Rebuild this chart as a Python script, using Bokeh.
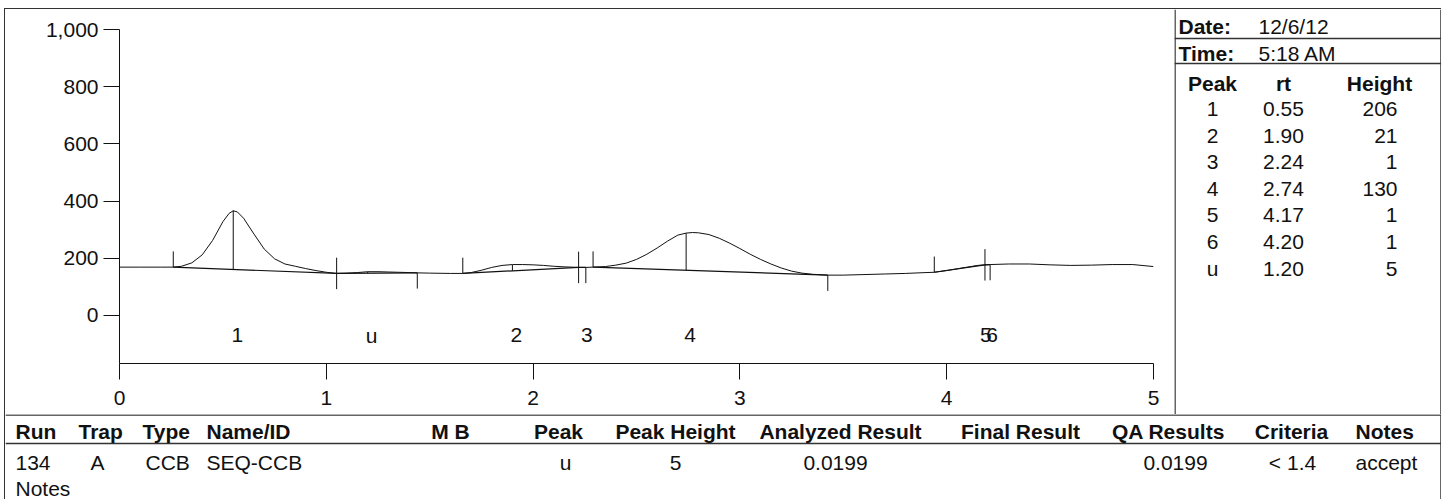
from bokeh.plotting import figure
from bokeh.models import Range1d, FixedTicker, NumeralTickFormatter, Spacer
from bokeh.layouts import row, column
from bokeh.embed import file_html
from bokeh.resources import INLINE
from bokeh.core.properties import value

# ---------------- data ----------------
signal_rt = [0.00, 0.10, 0.20, 0.26, 0.30, 0.35, 0.40, 0.45, 0.50, 0.53,
             0.55, 0.57, 0.60, 0.65, 0.70, 0.75, 0.80, 0.85, 0.90, 0.95,
             1.00, 1.05, 1.10, 1.15, 1.20, 1.25, 1.30, 1.35, 1.40, 1.44,
             1.50, 1.60, 1.66, 1.70, 1.75, 1.80, 1.85, 1.90, 1.95, 2.00,
             2.05, 2.10, 2.15, 2.22, 2.255, 2.29, 2.35, 2.40, 2.45, 2.50,
             2.55, 2.60, 2.65, 2.70, 2.74, 2.77, 2.80, 2.85, 2.90, 2.95,
             3.00, 3.05, 3.10, 3.15, 3.20, 3.25, 3.30, 3.35, 3.425, 3.50,
             3.60, 3.70, 3.80, 3.90, 3.94, 4.00, 4.05, 4.10, 4.15, 4.185,
             4.21, 4.30, 4.40, 4.50, 4.60, 4.70, 4.80, 4.90, 5.00]
signal_y = [169, 169, 169, 169, 172, 184, 212, 262, 328, 357,
            366, 362, 340, 285, 232, 198, 180, 172, 164, 157,
            151, 147, 148, 150, 153, 153, 152, 151, 150, 149,
            148, 147, 147, 150, 158, 168, 175, 178, 178, 177,
            175, 172, 170, 168, 168, 169, 171, 176, 183, 196,
            214, 236, 260, 281, 288, 290, 289, 283, 270, 253,
            234, 214, 196, 180, 166, 155, 148, 144, 141, 141,
            143, 145, 147, 150, 151, 157, 163, 169, 175, 177,
            178, 180, 180, 177, 175, 176, 178, 178, 171]

peak_names = ["1", "2", "3", "4", "5", "6", "u"]
peak_rt = [0.55, 1.90, 2.24, 2.74, 4.17, 4.20, 1.20]
peak_height = [206, 21, 1, 130, 1, 1, 5]
base_start_rt = [0.26, 1.66, 2.22, 2.29, 3.94, 4.185, 1.05]
base_start_y = [169, 147, 168, 169, 151, 177, 147]
base_end_rt = [1.05, 2.22, 2.255, 3.425, 4.185, 4.21, 1.44]
base_end_y = [147, 168, 168, 141, 177, 178, 149]

x_ticks = [0, 1, 2, 3, 4, 5]
y_ticks = [0, 200, 400, 600, 800, 1000]

run_date = "12/6/12"
run_time = "5:18 AM"
peak_table_header = ["Peak", "rt", "Height"]

result_header = ["Run", "Trap", "Type", "Name/ID", "M B", "Peak", "Peak Height",
                 "Analyzed Result", "Final Result", "QA Results", "Criteria", "Notes"]
result_row = ["134", "A", "CCB", "SEQ-CCB", "", "u", "5", "0.0199", "", "0.0199",
              "< 1.4", "accept"]
notes_label = "Notes"

# ---------------- style ----------------
FONT = "Liberation Sans"
FS = "21px"
INK = "#111111"
LINE = "#333333"
TICK_LEN = 55   # marker length in signal units
LABEL_Y = -70   # peak label level


def panel(w, h):
    p = figure(width=w, height=h, x_range=Range1d(0, w), y_range=Range1d(h, 0),
               output_backend="svg", toolbar_location=None, title=None,
               x_axis_type=None, y_axis_type=None, min_border=0, frame_align=False)
    p.outline_line_color = None
    return p


def txt(p, xs, ys, texts, align="left", bold=False):
    p.text(x=xs, y=ys, text=texts, text_align=align, text_baseline="middle",
           text_font=value(FONT), text_font_size=value(FS), text_color=INK,
           text_font_style="bold" if bold else "normal")


# ---------------- chromatogram ----------------
chart = figure(width=1169, height=405, x_range=Range1d(0, 5), y_range=Range1d(-168, 1000),
               output_backend="svg", toolbar_location=None, title=None, frame_align=False,
               min_border_left=114, min_border_right=21, min_border_top=20,
               min_border_bottom=51)
chart.outline_line_color = None
chart.xgrid.visible = False
chart.ygrid.visible = False
chart.xaxis.ticker = FixedTicker(ticks=x_ticks)
chart.yaxis.ticker = FixedTicker(ticks=y_ticks)
chart.yaxis.formatter = NumeralTickFormatter(format="0,0")
for ax in (chart.xaxis[0], chart.yaxis[0]):
    ax.major_tick_out = 16
    ax.major_tick_in = 0
    ax.minor_tick_out = 0
    ax.minor_tick_in = 0
    ax.axis_line_color = INK
    ax.major_tick_line_color = INK
    ax.major_label_text_font = FONT
    ax.major_label_text_font_size = FS
    ax.major_label_text_color = INK
chart.xaxis.major_label_standoff = 11
chart.yaxis.major_label_standoff = 5

chart.line(signal_rt, signal_y, line_color=INK, line_width=1)

# baselines under each peak
chart.segment(x0=base_start_rt, y0=base_start_y, x1=base_end_rt, y1=base_end_y,
              line_color=INK, line_width=1.2)
# start (up) and end (down) markers
chart.segment(x0=base_start_rt, y0=base_start_y, x1=base_start_rt,
              y1=[v + TICK_LEN for v in base_start_y], line_color=INK, line_width=1)
chart.segment(x0=base_end_rt, y0=[v - TICK_LEN for v in base_end_y], x1=base_end_rt,
              y1=base_end_y, line_color=INK, line_width=1)
# apex lines
apex_base = [bs + (be - bs) * (rt - xs) / (xe - xs)
             for bs, be, rt, xs, xe in zip(base_start_y, base_end_y, peak_rt,
                                             base_start_rt, base_end_rt)]
chart.segment(x0=peak_rt, y0=apex_base, x1=peak_rt,
              y1=[b + h for b, h in zip(apex_base, peak_height)], line_color=INK, line_width=1)
# peak labels
chart.text(x=peak_rt, y=[LABEL_Y] * len(peak_rt), text=peak_names, x_offset=4,
           text_align="center", text_baseline="middle", text_font=value(FONT),
           text_font_size=value(FS), text_color=INK)

# ---------------- peak table (right) ----------------
side = panel(267, 405)
side.segment(x0=[0.5, 266.5, 0, 0], y0=[0, 0, 29, 54],
             x1=[0.5, 266.5, 267, 267], y1=[405, 405, 29, 54],
             line_color=LINE, line_width=1.5)
txt(side, [4, 4], [16.5, 44], ["Date:", "Time:"], bold=True)
txt(side, [84, 84], [16.5, 44], [run_date, run_time])
txt(side, [38, 109, 205], [73.5] * 3, peak_table_header, align="center", bold=True)
row_ys = [99.5 + 26.6 * i for i in range(len(peak_names))]
txt(side, [38] * len(peak_names), row_ys, peak_names, align="center")
txt(side, [109] * len(peak_names), row_ys, ["%.2f" % v for v in peak_rt], align="center")
txt(side, [223] * len(peak_names), row_ys, [str(v) for v in peak_height], align="right")

# ---------------- results table (bottom) ----------------
bottom = panel(1436, 85)
bottom.segment(x0=[0, 0, 1435.5], y0=[0.5, 29, 0], x1=[1436, 1436, 1435.5], y1=[0.5, 29, 85],
               line_color=LINE, line_width=1.5)
hdr_x = [10, 73, 137, 201, 445, 553, 670, 835, 1015, 1163, 1286, 1350]
row_x = [10, 92, 140, 201, 445, 560, 670, 830, 1015, 1170, 1287, 1350]
hdr_align = ["left"] * 4 + ["center"] * 7 + ["left"]
row_align = ["left", "center", "left", "left"] + ["center"] * 7 + ["left"]
for x, t, a in zip(hdr_x, result_header, hdr_align):
    txt(bottom, [x], [16.5], [t], align=a, bold=True)
for x, t, a in zip(row_x, result_row, row_align):
    if t:
        txt(bottom, [x], [48], [t], align=a)
txt(bottom, [10], [74], [notes_label])

# ---------------- page layout ----------------
vline = Spacer(width=1, height=491, styles={"background-color": LINE})
hline = Spacer(width=1436, height=1, styles={"background-color": LINE})
inner = column(hline, row(chart, side, spacing=0), bottom, spacing=0)
body = row(Spacer(width=4, height=491), vline, inner, spacing=0)
root = column(Spacer(width=1447, height=8), body, spacing=0)

open("out.html", "w").write(file_html(root, INLINE))
